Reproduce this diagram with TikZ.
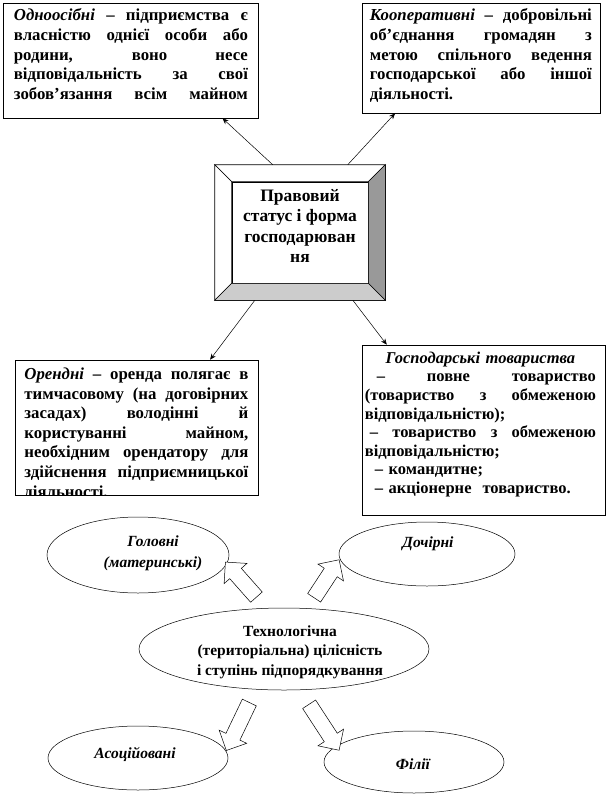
\documentclass[tikz,border=0pt]{standalone}
\usepackage{fontspec}
\setmainfont{Liberation Serif}
\usetikzlibrary{arrows.meta,shapes.geometric,shapes.arrows,calc}
\newcommand\jl[1]{\hbox to \hsize{\spaceskip=0.3em plus 10em\relax #1}\par}
\newcommand\jli[2]{\hbox to \hsize{\hspace*{#1}\spaceskip=0.3em plus 10em\relax #2}\par}
\begin{document}
\begin{tikzpicture}[x=1pt,y=-1pt,
  tbox/.style={draw,line width=0.6pt,rectangle,inner sep=0pt},
  btext/.style={inner sep=0pt,anchor=north west,font=\bfseries\fontsize{16.8}{19.6}\selectfont},
  conn/.style={line width=0.5pt,-{Stealth[length=6pt,width=5pt]}},
  oval/.style={ellipse,draw,line width=0.5pt,inner sep=0pt},
  otext/.style={inner sep=0pt,align=center,font=\bfseries\itshape\fontsize{15.5}{21}\selectfont},
  blockarrow/.style={single arrow,draw,fill=white,line width=0.5pt,inner xsep=0pt,inner ysep=7.5pt,
    minimum width=0pt,single arrow head extend=7.5pt,single arrow tip angle=90}]
\useasboundingbox (0,0) rectangle (609,796);

% ---- text boxes ----
\node[tbox,minimum width=255pt,minimum height=115pt] (b1) at (130.5,60.5) {};
\node[tbox,minimum width=238pt,minimum height=110pt] (b2) at (481,58) {};
\node[tbox,minimum width=243pt,minimum height=135pt] (b3) at (136.5,427.5) {};
\node[tbox,minimum width=243pt,minimum height=170pt] (b4) at (483.5,430) {};

\node[btext,text width=234pt] (t1) at ($(b1.north west)+(11,6)$) {%
\jl{\textit{Одноосібні} – підприємства є}
\jl{власністю однієї особи або}
\jl{родини, воно несе}
\jl{відповідальність за свої}
\jl{зобов’язання всім майном}};

\node[btext,text width=222pt] (t2) at ($(b2.north west)+(8,6)$) {%
\jl{\textit{Кооперативні} – добровільні}
\jl{об’єднання громадян з}
\jl{метою спільного ведення}
\jl{господарської або іншої}
діяльності.};

\begin{scope}
\clip ($(b3.north west)+(0.5,0.5)$) rectangle ($(b3.south east)+(-0.5,-0.5)$);
\node[btext,text width=224pt] (t3) at ($(b3.north west)+(9.5,8)$) {%
\jl{\textit{Орендні} – оренда полягає в}
\jl{тимчасовому (на договірних}
\jl{засадах) володінні й}
\jl{користуванні майном,}
\jl{необхідним орендатору для}
\jl{здійснення підприємницької}
діяльності.};
\end{scope}

\node[btext,text width=231pt,font=\bfseries\fontsize{16.5}{18.6}\selectfont] (t4) at ($(b4.north west)+(3,7)$) {%
\hbox to \hsize{\hfil\textit{Господарські товариства}\hfil}\par
\jli{12pt}{– повне товариство}
\jl{(товариство з обмеженою}
відповідальністю);\par
\jli{5pt}{– товариство з обмеженою}
відповідальністю;\par
\hspace*{10pt}– командитне;\par
\hspace*{10pt}– акціонерне\ \ товариство.};

% ---- central bevelled box ----
\node[draw,line width=0.6pt,minimum width=170pt,minimum height=135pt,inner sep=0pt] (cb) at (300,232.5) {};
\node[draw,line width=0.6pt,minimum width=136pt,minimum height=101pt,inner sep=0pt] (ci) at (300,232.5) {};
\filldraw[fill=white,line width=0.6pt] (cb.north west) -- (cb.north east) -- (ci.north east) -- (ci.north west) -- cycle;
\filldraw[fill=white,line width=0.6pt] (cb.north west) -- (ci.north west) -- (ci.south west) -- (cb.south west) -- cycle;
\filldraw[fill=black!40,line width=0.6pt] (cb.north east) -- (cb.south east) -- (ci.south east) -- (ci.north east) -- cycle;
\filldraw[fill=black!20,line width=0.6pt] (cb.south west) -- (cb.south east) -- (ci.south east) -- (ci.south west) -- cycle;
\node[inner sep=0pt,align=center,font=\bfseries\fontsize{17.5}{20.3}\selectfont] (ct) at (300,226) {Правовий\\статус і форма\\господарюван\\ня};

% ---- connectors ----
\draw[conn] ($(cb.north west)!0.34!(cb.north east)$) -- ($(b1.south west)!0.86!(b1.south east)$);
\draw[conn] ($(cb.north west)!0.78!(cb.north east)$) -- ($(b2.south west)!0.14!(b2.south east)$);
\draw[conn] ($(cb.south west)!0.235!(cb.south east)$) -- ($(b3.north west)!0.802!(b3.north east)$);
\draw[conn] ($(cb.south west)!0.81!(cb.south east)$) -- ($(b4.north west)!0.103!(b4.north east)$);

% ---- ellipses ----
\node[oval,minimum width=182pt,minimum height=76pt] (e1) at (138,555) {};
\node[otext] (e1t) at (153,553) {Головні\\(материнські)};
\node[oval,minimum width=176pt,minimum height=64pt] (e2) at (427,554) {};
\node[otext] (e2t) at (428,544) {Дочірні};
\node[oval,minimum width=290pt,minimum height=82pt] (ec) at (284,649) {};
\node[inner sep=0pt,align=center,font=\bfseries\fontsize{15.5}{19.5}\selectfont] (ect) at (290,652) {Технологічна\\(територіальна) цілісність\\і ступінь підпорядкування};
\node[oval,minimum width=180pt,minimum height=64pt] (e3) at (138,758) {};
\node[otext] (e3t) at (135,754) {Асоційовані};
\node[oval,minimum width=180pt,minimum height=62pt] (e4) at (414,762) {};
\node[otext] (e4t) at (413,764) {Філії};

% ---- block arrows ----
\node[blockarrow,minimum height=46.8pt,rotate=131.5] (a1) at (243.5,582.5) {};
\node[blockarrow,minimum height=45.5pt,rotate=56.7] (a2) at (324.5,582) {};
\node[blockarrow,minimum height=53.2pt,rotate=-115.6] (a3) at (239.5,723) {};
\node[blockarrow,minimum height=54.9pt,rotate=-56.9] (a4) at (322,724) {};
\end{tikzpicture}
\end{document}
